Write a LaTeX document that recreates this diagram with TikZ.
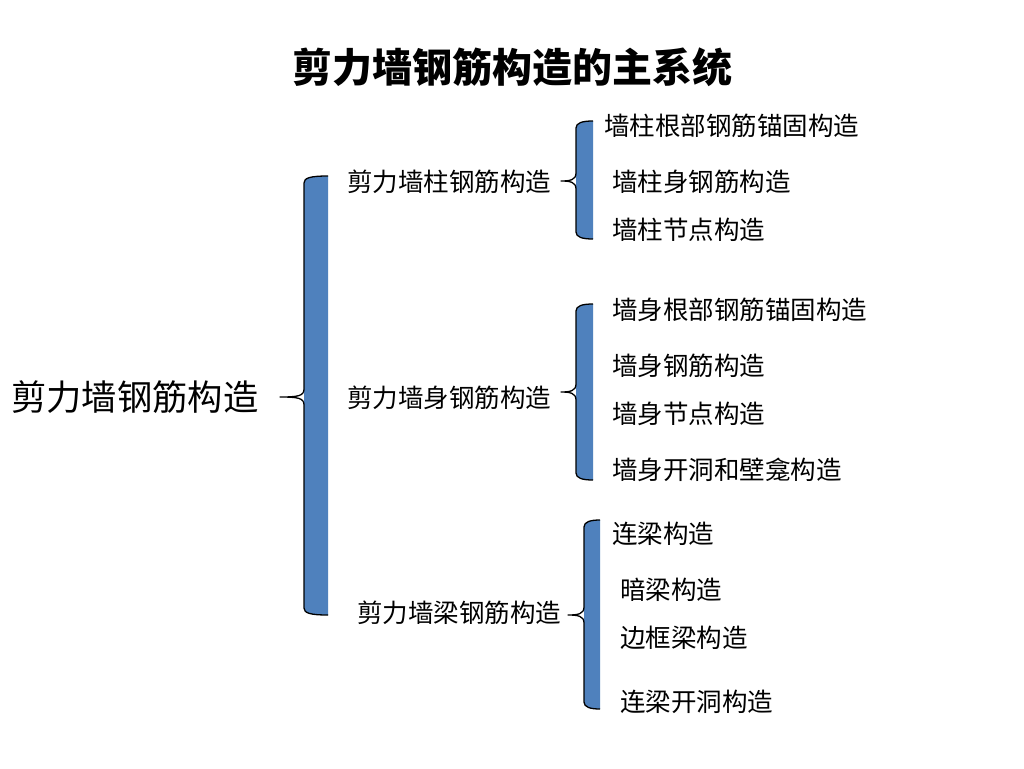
\documentclass[tikz,border=0pt]{standalone}
\usepackage{fontspec}
\setmainfont{Noto Sans CJK SC}
\definecolor{braceblue}{HTML}{4F81BD}
\tikzset{
  lbl/.style={anchor=west,inner sep=0pt,font=\fontsize{25.5pt}{25.5pt}\selectfont},
  bigl/.style={anchor=west,inner sep=0pt,font=\fontsize{35.3pt}{35.3pt}\selectfont},
  ttl/.style={inner sep=0pt,font=\fontsize{40pt}{40pt}\selectfont\bfseries},
  braceline/.style={draw=black,line width=1.3pt,line join=round},
}
% #1 xl, #2 xr, #3 top, #4 bottom, #5 mid, #6 tip x
\newcommand{\bluebrace}[6]{%
  \fill[braceblue] (#2,#3) .. controls (#1+6,#3) and (#1,#3+2) .. (#1,#3+7)
     -- (#1,#4-7) .. controls (#1,#4-2) and (#1+6,#4) .. (#2,#4) -- cycle;
  \draw[braceline] (#2,#3) .. controls (#1+6,#3) and (#1,#3+2) .. (#1,#3+7)
     -- (#1,#5-8) .. controls (#1,#5-1) and (#1-6,#5) .. (#6,#5)
     .. controls (#1-6,#5) and (#1,#5+1) .. (#1,#5+8)
     -- (#1,#4-7) .. controls (#1,#4-2) and (#1+6,#4) .. (#2,#4);
}
\begin{document}
\begin{tikzpicture}[x=1pt,y=-1pt]
\useasboundingbox[fill=white] (0,0) rectangle (1024,768);
\node[ttl] (title) at (512,67) {剪力墙钢筋构造的主系统};
\node[bigl] (root) at (11,397) {剪力墙钢筋构造};
\bluebrace{304}{328}{176}{615}{397}{280}
\node[lbl] (zhu) at (347,182) {剪力墙柱钢筋构造};
\node[lbl] (shen) at (347,398) {剪力墙身钢筋构造};
\node[lbl] (liang) at (357,613) {剪力墙梁钢筋构造};
\bluebrace{576}{593}{121}{239}{181}{561}
\bluebrace{576}{593}{304}{480}{392}{561}
\bluebrace{584}{600}{520}{709}{615}{568}
\node[lbl] (z1) at (604,126) {墙柱根部钢筋锚固构造};
\node[lbl] (z2) at (612,182) {墙柱身钢筋构造};
\node[lbl] (z3) at (612,230) {墙柱节点构造};
\node[lbl] (s1) at (612,310) {墙身根部钢筋锚固构造};
\node[lbl] (s2) at (612,366) {墙身钢筋构造};
\node[lbl] (s3) at (612,414) {墙身节点构造};
\node[lbl] (s4) at (612,470) {墙身开洞和壁龛构造};
\node[lbl] (l1) at (612,534) {连梁构造};
\node[lbl] (l2) at (620,590) {暗梁构造};
\node[lbl] (l3) at (620,638) {边框梁构造};
\node[lbl] (l4) at (620,702) {连梁开洞构造};
\end{tikzpicture}
\end{document}
